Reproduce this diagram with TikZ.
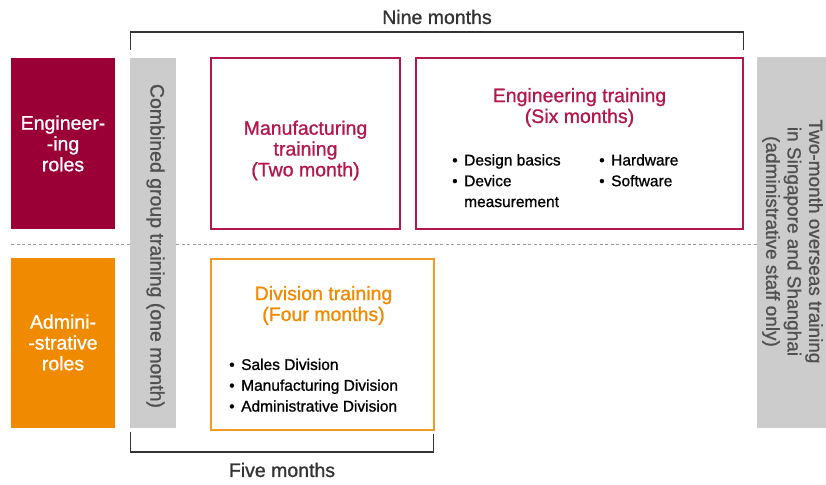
\documentclass[tikz,border=0pt]{standalone}
\usepackage{fontspec}
\setmainfont{Liberation Sans}[FakeBold=1.0]
\definecolor{crimson}{HTML}{9A0036}
\definecolor{crimsonline}{HTML}{B3174B}
\definecolor{amber}{HTML}{F08A00}
\definecolor{amberline}{HTML}{F39A25}
\definecolor{barfill}{HTML}{CCCCCC}
\definecolor{bartext}{HTML}{505050}
\definecolor{ink}{HTML}{333333}
\newcommand\itm{\makebox[12pt][l]{\textbullet}}
\newcommand\noitm{\makebox[12pt][l]{}}
\begin{document}
\begin{tikzpicture}[x=1pt,y=-1pt,
  big/.style={font=\fontsize{19.5}{20.8}\selectfont},
  small/.style={font=\fontsize{15.5}{20.8}\selectfont},
  rolebox/.style={inner sep=0pt, minimum width=104pt, text=white, align=center, big},
  phasebox/.style={draw, line width=1.3pt, fill=white, inner sep=0pt},
  greybar/.style={fill=barfill, inner sep=0pt},
  bartxt/.style={text=bartext, big, align=center, rotate=-90, inner sep=0pt},
  title/.style={big, align=center, inner sep=0pt},
  items/.style={small, align=left, inner sep=0pt, text=black, anchor=north west},
  bracket/.style={draw=ink, line width=1.4pt},
  span/.style={big, text=ink, inner sep=0pt}]
\useasboundingbox (0,0) rectangle (826,484);
\clip (0,0) rectangle (826,484);

% divider between the two role groups
\draw[black!40, line width=0.8pt, dash pattern=on 3pt off 2.5pt] (11,244) -- (757,244);

% role boxes
\node[rolebox, fill=crimson, minimum height=171pt] (eng) at (63,143.5) {};
\node[rolebox] (engtxt) at (63,143.5) {Engineer-\\-ing\\roles};
\node[rolebox, fill=amber, minimum height=170pt] (adm) at (63,343) {};
\node[rolebox] (admtxt) at (63,342.5) {Admini-\\-strative\\roles};

% combined group training bar
\node[greybar, minimum width=46pt, minimum height=370pt] (comb) at (153,243) {};
\node[bartxt] (combtxt) at (155.5,246) {Combined group training (one month)};

% overseas training bar
\node[greybar, minimum width=80pt, minimum height=371pt] (ovs) at (797,242.5) {};
\node[bartxt, font=\fontsize{19}{21.5}\selectfont] (ovstxt) at (792.5,241.5)
  {Two-month overseas training\\in Singapore and Shanghai\\(administrative staff only)};

% manufacturing training
\node[phasebox, draw=crimsonline, minimum width=189pt, minimum height=171pt] (mfg) at (305.5,143.5) {};
\node[title, text=crimsonline] (mfgtxt) at (305.5,150.5) {Manufacturing\\training\\(Two month)};

% engineering training
\node[phasebox, draw=crimsonline, minimum width=327pt, minimum height=171pt] (engt) at (579.5,143.5) {};
\node[title, text=crimsonline] (engttxt) at (579.5,107.5) {Engineering training\\(Six months)};
\node[items] (engta) at (452,154) {\itm Design basics\\\itm Device\\\noitm measurement};
\node[items] (engtb) at (599,154) {\itm Hardware\\\itm Software};

% division training
\node[phasebox, draw=amberline, minimum width=223pt, minimum height=171pt] (div) at (322.5,344.5) {};
\node[title, text=amber] (divtxt) at (323.5,305.5) {Division training\\(Four months)};
\node[items] (diva) at (229,358.5) {\itm Sales Division\\\itm Manufacturing Division\\\itm Administrative Division};

% duration brackets
\coordinate (nineL) at (130.5,50);
\coordinate (nineR) at (743.5,50);
\draw[bracket] (nineL) -- ++(0,-18) -| (nineR);
\node[span] (nine) at (437,17) {Nine months};
\coordinate (fiveL) at (130.5,432);
\coordinate (fiveR) at (433.5,434);
\draw[bracket] (fiveL) -- ++(0,20) -| (fiveR);
\node[span] (five) at (282,470) {Five months};
\end{tikzpicture}
\end{document}
